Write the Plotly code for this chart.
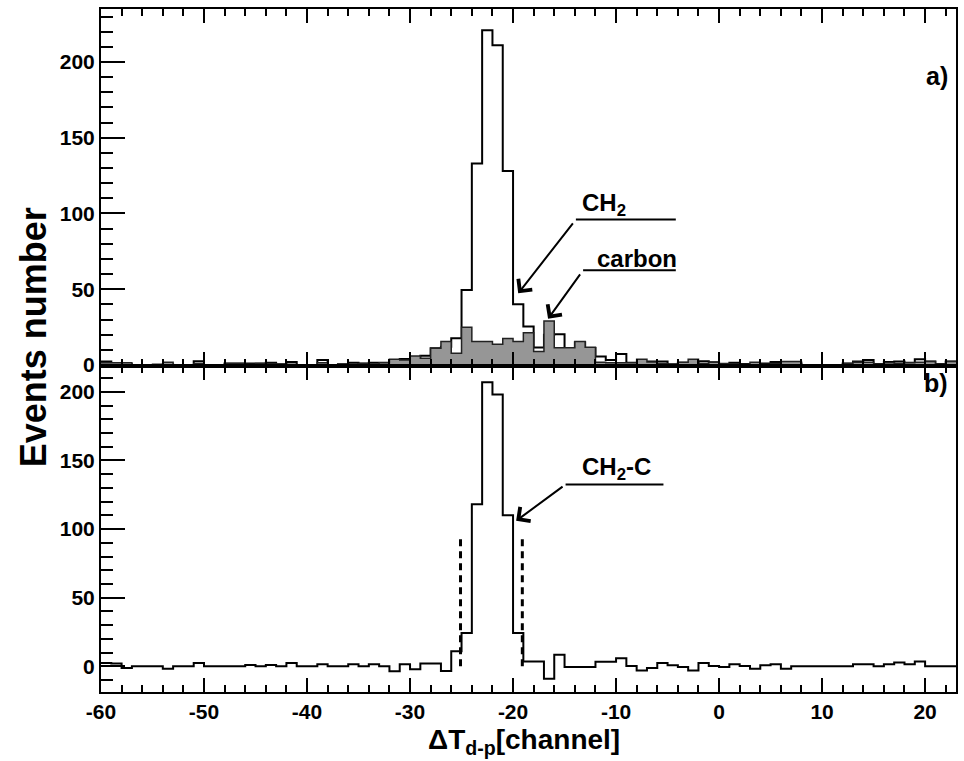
import plotly.graph_objects as go
from plotly.subplots import make_subplots

# ---- data (bin low edges, width 1 channel) ----
channels = list(range(-60, 23))
upper_edge = 23

ch2 = [2.2, 1, 0.5, 0, 0, 0, 0.3, 0, 0, 2.4,
       0, 0, 1, 1, 1, 1, 1.5, 0.5, 2, 0,
       0, 3.3, 0, 0.5, 1.5, 1, 1.5, 1.5, 0.5, 4,
       3.7, 6, 11, 12, 17.6, 49.5, 133, 221, 211, 128,
       40, 25.3, 11.5, 20, 20.2, 11, 15, 11.2, 5.5, 3.3,
       7.3, 1.5, 0.7, 2.2, 2.2, 0.5, 1.5, 0.7, 2.5, 1.8,
       0.5, 1.5, 0.6, 0, 1, 2, 0.5, 1, 0, 0,
       0, 0, 1, 2.2, 3.3, 0.7, 2, 2.2, 1.5, 3.7,
       2.2, 0.7, 2.2]

carbon = [1.5, 1.5, 1.5, 0, 0, 0.5, 1.8, 0, 0, 1,
          0, 0, 1, 1, 0.5, 1, 1, 0.5, 0.5, 0,
          0, 1.5, 0, 0.5, 0.5, 1, 0.5, 1.5, 3.7, 3.3,
          5.9, 4.4, 11, 15.4, 7.7, 24.9, 15.4, 15.4, 13.6, 17.4,
          15.4, 21.3, 8.8, 29, 11.4, 11.4, 15.4, 11.7, 1.8, 1.5,
          1.5, 1.5, 3.7, 2, 1, 0.3, 1.8, 3.7, 1, 1.8,
          1, 0.8, 0.4, 1.8, 0.4, 1, 2.2, 2.2, 0, 0,
          0, 0, 1, 1.8, 1.8, 0.7, 1.5, 1, 1.5, 1.8,
          2.2, 0.7, 2.2]

ch2_minus_c = [2.4, 2, -1.2, 0, 0, 0, -1.7, 0, 0, 2.4,
               0, 0, 0, 0, 1, 0, 1, 0, 2.4, 0,
               0, 1.5, 0, 0, 1.5, 0, 1.5, 0, -3.6, 1.5,
               -2.2, 2, 2, -3.4, 11, 24.3, 118, 207, 198, 110,
               24.3, 3.6, 3.6, -9, 8.5, -0.5, -0.5, -0.5, 3.3, 3.3,
               5.8, 0.2, -3, -1.2, 2.4, 0.7, -0.5, -3, 2.4, 0.2,
               -0.5, 1.5, 0.2, -1.7, 0.7, 1.5, -1.7, 0, 0, 0,
               0, 0, 0, 1.5, 1.5, 0, 1.5, 2.7, 1.5, 3.6,
               0, 0, 0]

cut_bounds = [-25.1, -19.1]
cut_height = 95

xtick_vals = [-60, -50, -40, -30, -20, -10, 0, 10, 20]
xtick_text = ["-60", "-50", "-40", "-30", "-20", "-10", "0", "10", "20"]
ytick_vals = [0, 50, 100, 150, 200]
ytick_text = ["0", "50", "100", "150", "200"]

FONT = "Liberation Sans, Arial, sans-serif"


def step(vals):
    return channels + [upper_edge], list(vals) + [vals[-1]]


fig = make_subplots(rows=2, cols=1, shared_xaxes=True, vertical_spacing=0,
                    row_heights=[0.5227, 0.4773])

x, y = step(ch2)
fig.add_trace(go.Scatter(x=x, y=y, mode="lines", line_shape="hv",
                         line=dict(color="black", width=2), showlegend=False),
              row=1, col=1)
x, y = step(carbon)
fig.add_trace(go.Scatter(x=x, y=y, mode="lines", line_shape="hv", fill="tozeroy",
                         fillcolor="#969696",
                         line=dict(color="#222222", width=1.5), showlegend=False),
              row=1, col=1)
x, y = step(ch2_minus_c)
fig.add_trace(go.Scatter(x=x, y=y, mode="lines", line_shape="hv",
                         line=dict(color="black", width=2), showlegend=False),
              row=2, col=1)
for cb in cut_bounds:
    fig.add_trace(go.Scatter(x=[cb, cb], y=[0, cut_height], mode="lines",
                             line=dict(color="black", width=3, dash="7px,5px"),
                             showlegend=False), row=2, col=1)

tickfont = dict(family=FONT, size=21, color="black", weight="bold")

for r in (1, 2):
    fig.update_xaxes(row=r, col=1, range=[-60, 23], showline=True, linecolor="black",
                     linewidth=2, mirror="ticks", showgrid=False, zeroline=False,
                     tickmode="array", tickvals=xtick_vals, ticktext=xtick_text,
                     ticks="inside", ticklen=14, tickwidth=1.5, tickcolor="black",
                     layer="above traces",
                     minor=dict(ticks="inside", dtick=2, tick0=0, ticklen=7,
                                tickwidth=1.5, tickcolor="black", showgrid=False),
                     showticklabels=(r == 2), tickfont=tickfont)
    fig.update_yaxes(row=r, col=1, showline=True, linecolor="black", linewidth=2,
                     mirror=True, showgrid=False, zeroline=False,
                     tickmode="array", tickvals=ytick_vals, ticktext=ytick_text,
                     ticks="inside", ticklen=24, tickwidth=1.5, tickcolor="black",
                     layer="above traces",
                     minor=dict(ticks="inside", dtick=10, tick0=0, ticklen=12,
                                tickwidth=1.5, tickcolor="black", showgrid=False),
                     tickfont=tickfont)
fig.update_yaxes(range=[-0.7, 235], row=1, col=1)
fig.update_yaxes(range=[-18.7, 218.8], row=2, col=1)

ann_font = dict(family=FONT, size=24, color="black", weight="bold")

# top panel: CH2 label
fig.add_shape(type="line", x0=-13.9, x1=-4.2, y0=96, y1=96, xref="x", yref="y",
              line=dict(color="black", width=2))
fig.add_annotation(x=-19.5, y=47.3, ax=-13.9, ay=96, xref="x", yref="y",
                   axref="x", ayref="y", text=" ", showarrow=True,
                   arrowhead=4, arrowsize=1.7, arrowwidth=2, arrowcolor="black")
fig.add_annotation(x=-11.2, y=96, xref="x", yref="y", text="CH<sub>2</sub>",
                   showarrow=False, yanchor="bottom", yshift=-2, font=ann_font)
# top panel: carbon label
fig.add_shape(type="line", x0=-13.2, x1=-4.2, y0=62.5, y1=62.5, xref="x", yref="y",
              line=dict(color="black", width=2))
fig.add_annotation(x=-16.6, y=30.5, ax=-13.2, ay=62.5, xref="x", yref="y",
                   axref="x", ayref="y", text=" ", showarrow=True,
                   arrowhead=4, arrowsize=1.7, arrowwidth=2, arrowcolor="black")
fig.add_annotation(x=-8.0, y=62.5, xref="x", yref="y", text="carbon",
                   showarrow=False, yanchor="bottom", yshift=-4, font=ann_font)
# bottom panel: CH2-C label
fig.add_shape(type="line", x0=-14.9, x1=-5.4, y0=132.5, y1=132.5, xref="x2", yref="y2",
              line=dict(color="black", width=2))
fig.add_annotation(x=-19.7, y=106, ax=-14.9, ay=132.5, xref="x2", yref="y2",
                   axref="x2", ayref="y2", text=" ", showarrow=True,
                   arrowhead=4, arrowsize=1.7, arrowwidth=2, arrowcolor="black")
fig.add_annotation(x=-10.0, y=132.5, xref="x2", yref="y2", text="CH<sub>2</sub>-C",
                   showarrow=False, yanchor="bottom", yshift=-2, font=ann_font)

# panel labels
fig.add_annotation(x=0.993, y=0.925, xref="paper", yref="paper", text="a)",
                   showarrow=False, font=dict(family=FONT, size=25, color="black", weight="bold"))
fig.add_annotation(x=0.993, y=0.452, xref="paper", yref="paper", text="b)",
                   showarrow=False, font=dict(family=FONT, size=25, color="black", weight="bold"))

# axis titles
fig.add_annotation(x=-0.079, y=0.52, xref="paper", yref="paper", text="Events number",
                   textangle=-90, showarrow=False, xanchor="center", yanchor="middle",
                   font=dict(family=FONT, size=36, color="black", weight="bold"))
fig.add_annotation(x=0.495, y=-0.072, xref="paper", yref="paper",
                   text="ΔT<sub>d-p</sub>[channel]", showarrow=False,
                   xanchor="center", yanchor="middle",
                   font=dict(family=FONT, size=28, color="black", weight="bold"))

fig.update_layout(width=964, height=761, margin=dict(l=101, r=6, t=9, b=69),
                  paper_bgcolor="white", plot_bgcolor="white",
                  font=dict(family=FONT, color="black"))

fig.write_html("out.html")
